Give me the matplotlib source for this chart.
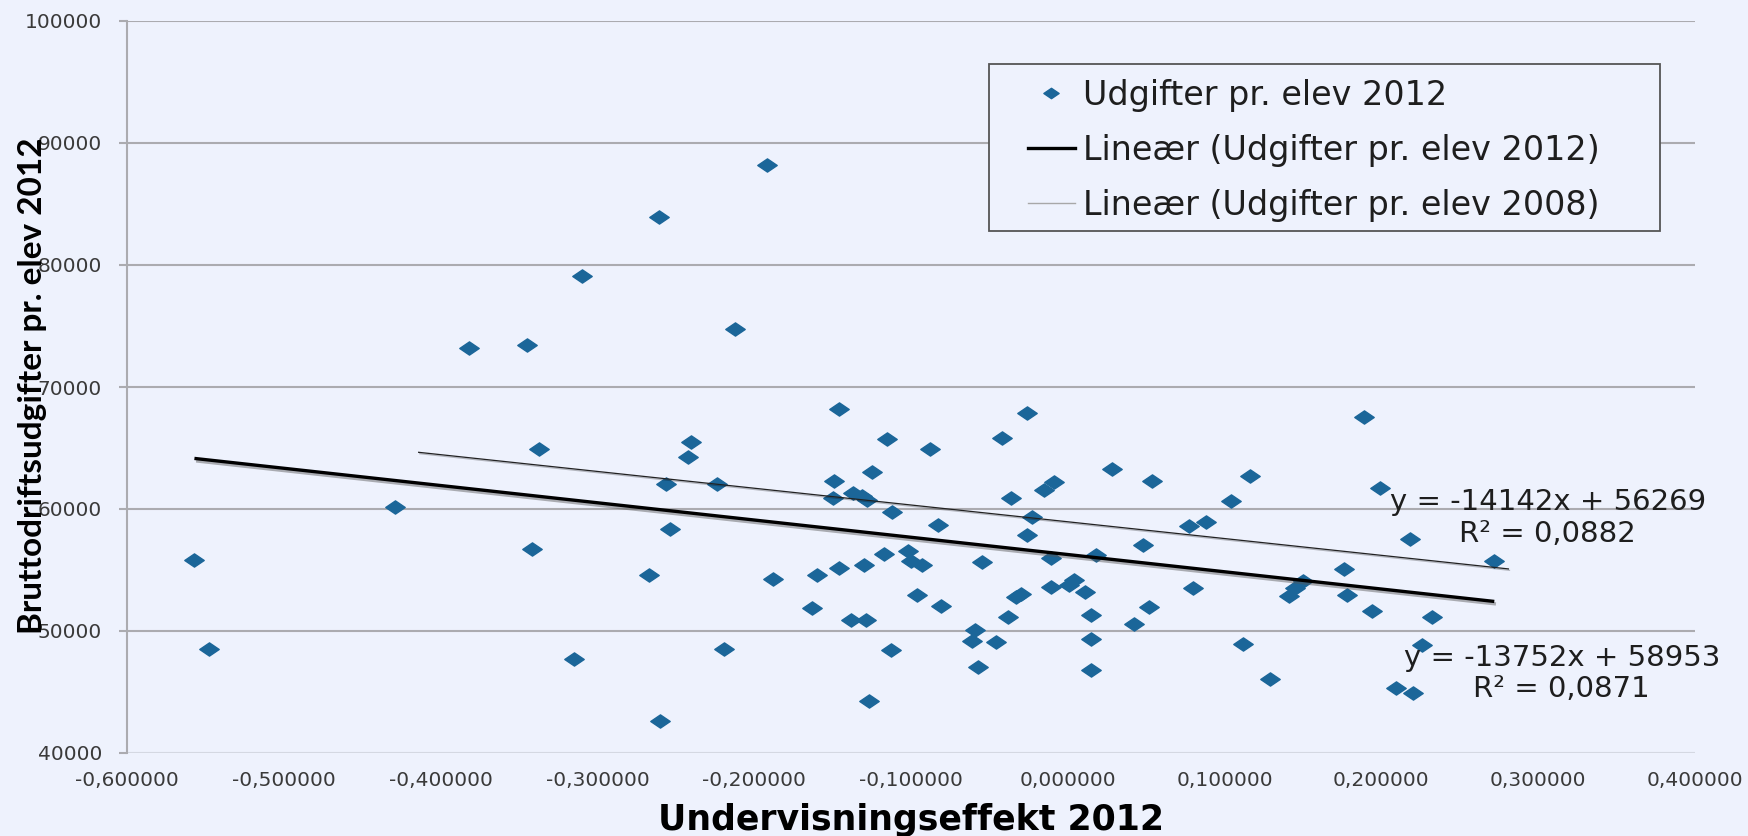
import numpy as np
import matplotlib.pyplot as plt
from matplotlib.path import Path
from matplotlib.lines import Line2D
from matplotlib.patches import Rectangle
import matplotlib.patheffects as pe
from matplotlib.ticker import FuncFormatter

# Undervisningseffekt 2012 (x) and Bruttodriftsudgifter pr. elev 2012 (y)
effekt_2012 = [
    -0.557, -0.548, -0.429, -0.342, -0.337, -0.315, -0.382, -0.345, -0.310,
    -0.192, -0.261, -0.212,
    -0.146, -0.026, -0.240, -0.242, -0.115, -0.088, -0.042, -0.125, -0.256,
    -0.224, -0.149, -0.150, -0.137, -0.131, -0.128, 0.028, 0.054, -0.036,
    -0.015, -0.009, -0.112, -0.023, -0.026, -0.083, -0.254, -0.117, -0.102,
    -0.100, -0.093, -0.130, -0.146, -0.160, -0.188, -0.267, -0.055, -0.011,
    0.018, 0.048, -0.011, 0.004, 0.001, 0.011, -0.030, -0.033, -0.096,
    -0.081, -0.163, 0.052, -0.138, -0.129, -0.038, 0.015, 0.042, -0.059,
    -0.061, -0.046, 0.015, -0.219, -0.113, -0.057, 0.015, -0.127, -0.260,
    0.189, 0.116, 0.199, 0.104, 0.077, 0.088, 0.218, 0.272, 0.176, 0.080,
    0.150, 0.145, 0.141, 0.178, 0.194, 0.232, 0.112, 0.226, 0.129, 0.209,
    0.220,
]
udgift_2012 = [
    55840, 48490, 60160, 56740, 64930, 47730, 73220, 73470, 79070,
    88220, 83910, 74730,
    68160, 67890, 65480, 64270, 65750, 64880, 65840, 63010, 62060,
    62060, 62270, 60900, 61320, 61040, 60770, 63290, 62330, 60900,
    61530, 62190, 59730, 59340, 57890, 58710, 58380, 56330, 56520,
    55700, 55370, 55430, 55150, 54600, 54250, 54600, 55640, 55970,
    56190, 57070, 53640, 54140, 53730, 53180, 53040, 52770, 52960,
    52060, 51920, 52000, 50900, 50900, 51180, 51320, 50550, 50080,
    49210, 49070, 49320, 48490, 48440, 47010, 46800, 44250, 42630,
    67560, 62740, 61730, 60630, 58630, 58900, 57530, 55750, 55070, 53560,
    54060, 53510, 52880, 52960, 51670, 51180, 48900, 48850, 46030, 45290,
    44930,
]

# trend lines as printed on the chart
slope_2012, icept_2012 = -14142, 56269
slope_2008, icept_2008 = -13752, 58953
range_2008 = [-0.414, 0.281]

x_ticks = [-0.6, -0.5, -0.4, -0.3, -0.2, -0.1, 0.0, 0.1, 0.2, 0.3, 0.4]
y_ticks = [40000, 50000, 60000, 70000, 80000, 90000, 100000]

legend_labels = ['Udgifter pr. elev 2012',
                 'Lineær (Udgifter pr. elev 2012)',
                 'Lineær (Udgifter pr. elev 2008)']
eq_2012 = 'y = -13752x + 58953\nR² = 0,0871'
eq_2008 = 'y = -14142x + 56269\nR² = 0,0882'

bg = '#EEF2FD'
blue = '#1B6699'
grid_col = '#ABABB0'

fig = plt.figure(figsize=(17.48, 8.36), dpi=100, facecolor=bg)
ax = fig.add_axes([127 / 1748, 83 / 836, 1568 / 1748, 732 / 836])
ax.set_facecolor(bg)

diamond = Path([(-1, 0), (0, 0.68), (1, 0), (0, -0.68), (-1, 0)], closed=True)

ax.plot(effekt_2012, udgift_2012, linestyle='none', marker=diamond, ms=14,
        color=blue, mec=blue, zorder=2)

shadow = [pe.SimpleLineShadow(offset=(1.2, -1.8), shadow_color='#555555', alpha=0.45),
          pe.Normal()]

xs = np.array([min(effekt_2012), max(effekt_2012)])
ax.plot(xs, slope_2012 * xs + icept_2012, color='black', lw=2.4, zorder=3,
        solid_capstyle='butt', path_effects=shadow)
xs8 = np.array(range_2008)
ax.plot(xs8, slope_2008 * xs8 + icept_2008, color='#222222', lw=0.9, zorder=3,
        path_effects=[pe.SimpleLineShadow(offset=(0.8, -1), alpha=0.25), pe.Normal()])

ax.set_xlim(-0.6, 0.4)
ax.set_ylim(40000, 100000)
ax.set_xticks(x_ticks)
ax.set_yticks(y_ticks)


def comma_fmt(v, pos):
    s = f'{v:.6f}'.replace('.', ',')
    return '0,000000' if s == '-0,000000' else s


ax.xaxis.set_major_formatter(FuncFormatter(comma_fmt))
ax.yaxis.set_major_formatter(FuncFormatter(lambda v, p: f'{int(v)}'))

ax.grid(axis='y', color=grid_col, lw=1.5, zorder=0)
ax.get_ygridlines()[0].set_color('#D4D8E2')
for s in ['top', 'right', 'bottom']:
    ax.spines[s].set_visible(False)
ax.spines['left'].set_color(grid_col)
ax.spines['left'].set_linewidth(1.5)

ax.tick_params(axis='y', length=6, width=1.5, color=grid_col, pad=12,
               labelsize=14.5, labelcolor='#3A3A3A')
ax.tick_params(axis='x', length=0, pad=13, labelsize=14.5, labelcolor='#3A3A3A')

# legend with its own frame so the gridline is hidden behind it
ax.add_patch(Rectangle((0.5497, 0.7131), 0.428, 0.2282, transform=ax.transAxes,
                       facecolor=bg, edgecolor='#555555', lw=1.3, zorder=4))
handles = [Line2D([], [], ls='none', marker=diamond, ms=11, color=blue),
           Line2D([], [], color='black', lw=2.4),
           Line2D([], [], color='#A8A8A8', lw=1)]
leg = ax.legend(handles, legend_labels, loc='upper left',
                bbox_to_anchor=(0.5746, 0.921), frameon=False, fontsize=24,
                handlelength=1.4, handletextpad=0.25, labelspacing=0.66,
                borderpad=0, borderaxespad=0)
leg.set_zorder(5)
for t in leg.get_texts():
    t.set_color('#1E1E1E')

ax.text(0.906, 0.321, eq_2008, transform=ax.transAxes, ha='center', va='center',
        multialignment='center', fontsize=21, linespacing=1.15, color='#1E1E1E', zorder=6)
ax.text(0.915, 0.109, eq_2012, transform=ax.transAxes, ha='center', va='center',
        multialignment='center', fontsize=21, linespacing=1.15, color='#1E1E1E', zorder=6)

fig.text(911 / 1748, 1 - 830 / 836, 'Undervisningseffekt 2012', ha='center',
         va='baseline', fontsize=25, fontweight='bold', color='black')
fig.text(33 / 1748, 1 - 386 / 836, 'Bruttodriftsudgifter pr. elev 2012', rotation=90,
         ha='center', va='center', fontsize=24, fontweight='bold', family='Lato',
         color='black')

fig.savefig('out.png', dpi=100, facecolor=bg)
